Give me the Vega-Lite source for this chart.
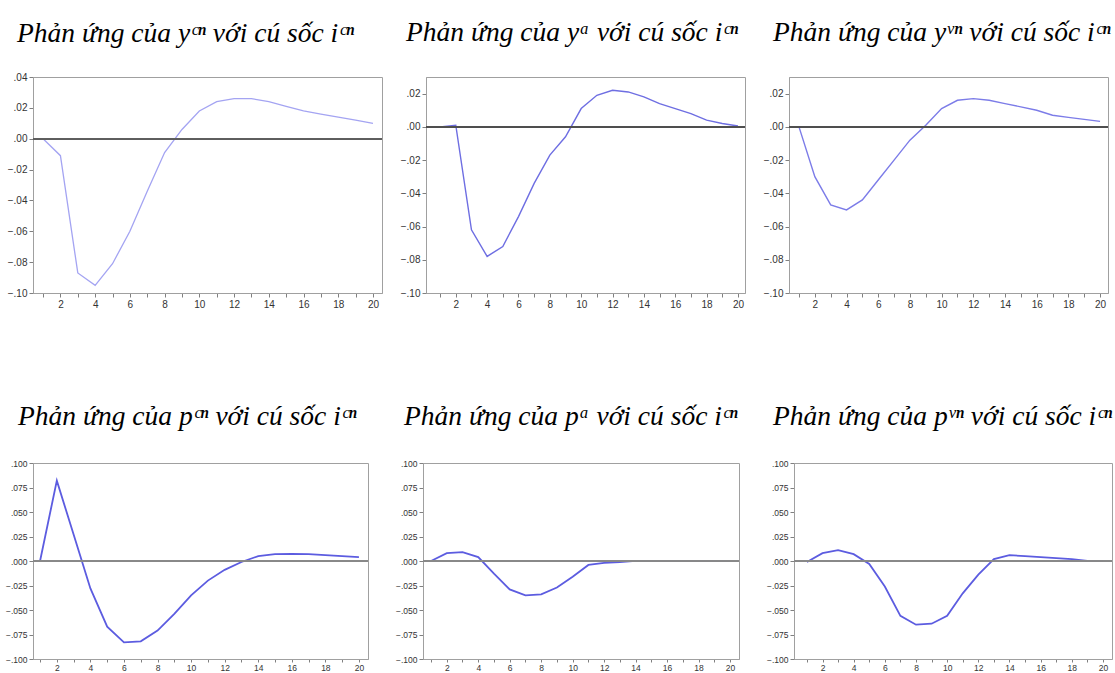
{
  "$schema": "https://vega.github.io/schema/vega-lite/v6.json",
  "background": "white",
  "padding": {"left": 4, "top": 18, "right": 0, "bottom": 0},
  "config": {
    "view": {"stroke": "#a0a0a0", "strokeWidth": 1},
    "axis": {"grid": false, "domainColor": "#a0a0a0", "tickColor": "#808080", "tickSize": 4, "labelColor": "#333333", "labelFont": "Liberation Sans", "labelPadding": 2, "labelOverlap": false, "title": null},
    "title": {"font": "Liberation Serif", "fontStyle": "italic", "fontWeight": "normal", "fontSize": 27.5, "color": "#000000", "anchor": "start", "frame": "group"}
  },
  "data": {"values": [
    {"p": "ycn", "t": 1, "v": 0}, {"p": "ycn", "t": 2, "v": -0.011}, {"p": "ycn", "t": 3, "v": -0.087}, {"p": "ycn", "t": 4, "v": -0.095}, {"p": "ycn", "t": 5, "v": -0.081}, {"p": "ycn", "t": 6, "v": -0.06}, {"p": "ycn", "t": 7, "v": -0.034}, {"p": "ycn", "t": 8, "v": -0.009}, {"p": "ycn", "t": 9, "v": 0.006}, {"p": "ycn", "t": 10, "v": 0.018}, {"p": "ycn", "t": 11, "v": 0.024}, {"p": "ycn", "t": 12, "v": 0.026}, {"p": "ycn", "t": 13, "v": 0.026}, {"p": "ycn", "t": 14, "v": 0.024}, {"p": "ycn", "t": 15, "v": 0.021}, {"p": "ycn", "t": 16, "v": 0.018}, {"p": "ycn", "t": 17, "v": 0.016}, {"p": "ycn", "t": 18, "v": 0.014}, {"p": "ycn", "t": 19, "v": 0.012}, {"p": "ycn", "t": 20, "v": 0.01},
    {"p": "ya", "t": 1, "v": 0}, {"p": "ya", "t": 2, "v": 0.001}, {"p": "ya", "t": 3, "v": -0.062}, {"p": "ya", "t": 4, "v": -0.078}, {"p": "ya", "t": 5, "v": -0.072}, {"p": "ya", "t": 6, "v": -0.054}, {"p": "ya", "t": 7, "v": -0.034}, {"p": "ya", "t": 8, "v": -0.017}, {"p": "ya", "t": 9, "v": -0.006}, {"p": "ya", "t": 10, "v": 0.011}, {"p": "ya", "t": 11, "v": 0.019}, {"p": "ya", "t": 12, "v": 0.022}, {"p": "ya", "t": 13, "v": 0.021}, {"p": "ya", "t": 14, "v": 0.018}, {"p": "ya", "t": 15, "v": 0.014}, {"p": "ya", "t": 16, "v": 0.011}, {"p": "ya", "t": 17, "v": 0.008}, {"p": "ya", "t": 18, "v": 0.004}, {"p": "ya", "t": 19, "v": 0.002}, {"p": "ya", "t": 20, "v": 0.0005},
    {"p": "yvn", "t": 1, "v": 0}, {"p": "yvn", "t": 2, "v": -0.03}, {"p": "yvn", "t": 3, "v": -0.047}, {"p": "yvn", "t": 4, "v": -0.05}, {"p": "yvn", "t": 5, "v": -0.044}, {"p": "yvn", "t": 6, "v": -0.032}, {"p": "yvn", "t": 7, "v": -0.02}, {"p": "yvn", "t": 8, "v": -0.008}, {"p": "yvn", "t": 9, "v": 0.001}, {"p": "yvn", "t": 10, "v": 0.011}, {"p": "yvn", "t": 11, "v": 0.016}, {"p": "yvn", "t": 12, "v": 0.017}, {"p": "yvn", "t": 13, "v": 0.016}, {"p": "yvn", "t": 14, "v": 0.014}, {"p": "yvn", "t": 15, "v": 0.012}, {"p": "yvn", "t": 16, "v": 0.01}, {"p": "yvn", "t": 17, "v": 0.007}, {"p": "yvn", "t": 18, "v": 0.0057}, {"p": "yvn", "t": 19, "v": 0.0045}, {"p": "yvn", "t": 20, "v": 0.0033},
    {"p": "pcn", "t": 1, "v": 0}, {"p": "pcn", "t": 2, "v": 0.082}, {"p": "pcn", "t": 3, "v": 0.027}, {"p": "pcn", "t": 4, "v": -0.028}, {"p": "pcn", "t": 5, "v": -0.067}, {"p": "pcn", "t": 6, "v": -0.083}, {"p": "pcn", "t": 7, "v": -0.082}, {"p": "pcn", "t": 8, "v": -0.071}, {"p": "pcn", "t": 9, "v": -0.054}, {"p": "pcn", "t": 10, "v": -0.035}, {"p": "pcn", "t": 11, "v": -0.02}, {"p": "pcn", "t": 12, "v": -0.009}, {"p": "pcn", "t": 13, "v": -0.001}, {"p": "pcn", "t": 14, "v": 0.005}, {"p": "pcn", "t": 15, "v": 0.007}, {"p": "pcn", "t": 16, "v": 0.0073}, {"p": "pcn", "t": 17, "v": 0.007}, {"p": "pcn", "t": 18, "v": 0.006}, {"p": "pcn", "t": 19, "v": 0.005}, {"p": "pcn", "t": 20, "v": 0.004},
    {"p": "pa", "t": 1, "v": 0}, {"p": "pa", "t": 2, "v": 0.008}, {"p": "pa", "t": 3, "v": 0.009}, {"p": "pa", "t": 4, "v": 0.004}, {"p": "pa", "t": 5, "v": -0.013}, {"p": "pa", "t": 6, "v": -0.029}, {"p": "pa", "t": 7, "v": -0.035}, {"p": "pa", "t": 8, "v": -0.034}, {"p": "pa", "t": 9, "v": -0.027}, {"p": "pa", "t": 10, "v": -0.016}, {"p": "pa", "t": 11, "v": -0.004}, {"p": "pa", "t": 12, "v": -0.002}, {"p": "pa", "t": 13, "v": -0.001}, {"p": "pa", "t": 14, "v": 0.0002}, {"p": "pa", "t": 15, "v": 0.0002}, {"p": "pa", "t": 16, "v": 0.0002}, {"p": "pa", "t": 17, "v": 0.0002}, {"p": "pa", "t": 18, "v": 0.0002}, {"p": "pa", "t": 19, "v": 0.0002}, {"p": "pa", "t": 20, "v": 0.0001},
    {"p": "pvn", "t": 1, "v": -0.001}, {"p": "pvn", "t": 2, "v": 0.008}, {"p": "pvn", "t": 3, "v": 0.011}, {"p": "pvn", "t": 4, "v": 0.007}, {"p": "pvn", "t": 5, "v": -0.003}, {"p": "pvn", "t": 6, "v": -0.026}, {"p": "pvn", "t": 7, "v": -0.056}, {"p": "pvn", "t": 8, "v": -0.065}, {"p": "pvn", "t": 9, "v": -0.064}, {"p": "pvn", "t": 10, "v": -0.056}, {"p": "pvn", "t": 11, "v": -0.033}, {"p": "pvn", "t": 12, "v": -0.014}, {"p": "pvn", "t": 13, "v": 0.002}, {"p": "pvn", "t": 14, "v": 0.006}, {"p": "pvn", "t": 15, "v": 0.005}, {"p": "pvn", "t": 16, "v": 0.004}, {"p": "pvn", "t": 17, "v": 0.003}, {"p": "pvn", "t": 18, "v": 0.002}, {"p": "pvn", "t": 19, "v": 0.0}, {"p": "pvn", "t": 20, "v": 0.0}
  ]},
  "spacing": 386,
  "bounds": "flush",
  "vconcat": [
    {
      "spacing": 44,
      "bounds": "flush",
      "hconcat": [
        {
          "width": 349, "height": 216,
          "title": {"text": "Phản ứng của yᶜⁿ với cú sốc iᶜⁿ", "dx": -16, "offset": 25},
          "transform": [{"filter": "datum.p == 'ycn'"}],
          "layer": [
            {"mark": {"type": "line", "color": "#a4a4f2", "strokeWidth": 1.3},
             "encoding": {
               "x": {"field": "t", "type": "quantitative", "scale": {"domain": [0.42, 20.52], "nice": false, "zero": false}, "axis": {"values": [1,2,3,4,5,6,7,8,9,10,11,12,13,14,15,16,17,18,19,20], "labelExpr": "datum.value % 2 == 0 ? datum.label : ''", "labelFontSize": 10}},
               "y": {"field": "v", "type": "quantitative", "scale": {"domain": [-0.1, 0.04], "nice": false, "zero": false}, "axis": {"values": [-0.1,-0.08,-0.06,-0.04,-0.02,0,0.02,0.04], "labelExpr": "replace(format(datum.value, '.2f'), '0.', '.')", "labelFontSize": 10}}
             }},
            {"mark": {"type": "rule", "color": "#606060", "strokeWidth": 1}, "encoding": {"y": {"datum": 0, "type": "quantitative", "axis": {"values": [-0.1,-0.08,-0.06,-0.04,-0.02,0,0.02,0.04], "labelExpr": "replace(format(datum.value, '.2f'), '0.', '.')", "labelFontSize": 10}}}}
          ]
        },
        {
          "width": 319, "height": 216,
          "title": {"text": "Phản ứng của yᵃ với cú sốc iᶜⁿ", "dx": -20, "offset": 31},
          "transform": [{"filter": "datum.p == 'ya'"}],
          "layer": [
            {"mark": {"type": "line", "color": "#6e6ee2", "strokeWidth": 1.4},
             "encoding": {
               "x": {"field": "t", "type": "quantitative", "scale": {"domain": [0.1, 20.45], "nice": false, "zero": false}, "axis": {"values": [1,2,3,4,5,6,7,8,9,10,11,12,13,14,15,16,17,18,19,20], "labelExpr": "datum.value % 2 == 0 ? datum.label : ''", "labelFontSize": 10}},
               "y": {"field": "v", "type": "quantitative", "scale": {"domain": [-0.1, 0.03], "nice": false, "zero": false}, "axis": {"values": [-0.1,-0.08,-0.06,-0.04,-0.02,0,0.02], "labelExpr": "replace(format(datum.value, '.2f'), '0.', '.')", "labelFontSize": 10}}
             }},
            {"mark": {"type": "rule", "color": "#505050", "strokeWidth": 1}, "encoding": {"y": {"datum": 0, "type": "quantitative", "axis": {"values": [-0.1,-0.08,-0.06,-0.04,-0.02,0,0.02], "labelExpr": "replace(format(datum.value, '.2f'), '0.', '.')", "labelFontSize": 10}}}}
          ]
        },
        {
          "width": 319, "height": 216,
          "title": {"text": "Phản ứng của yᵛⁿ với cú sốc iᶜⁿ", "dx": -16, "offset": 31},
          "transform": [{"filter": "datum.p == 'yvn'"}],
          "layer": [
            {"mark": {"type": "line", "color": "#7c7ce8", "strokeWidth": 1.4},
             "encoding": {
               "x": {"field": "t", "type": "quantitative", "scale": {"domain": [0.37, 20.5], "nice": false, "zero": false}, "axis": {"values": [1,2,3,4,5,6,7,8,9,10,11,12,13,14,15,16,17,18,19,20], "labelExpr": "datum.value % 2 == 0 ? datum.label : ''", "labelFontSize": 10}},
               "y": {"field": "v", "type": "quantitative", "scale": {"domain": [-0.1, 0.03], "nice": false, "zero": false}, "axis": {"values": [-0.1,-0.08,-0.06,-0.04,-0.02,0,0.02], "labelExpr": "replace(format(datum.value, '.2f'), '0.', '.')", "labelFontSize": 10}}
             }},
            {"mark": {"type": "rule", "color": "#505050", "strokeWidth": 1}, "encoding": {"y": {"datum": 0, "type": "quantitative", "axis": {"values": [-0.1,-0.08,-0.06,-0.04,-0.02,0,0.02], "labelExpr": "replace(format(datum.value, '.2f'), '0.', '.')", "labelFontSize": 10}}}}
          ]
        }
      ]
    },
    {
      "spacing": 55,
      "bounds": "flush",
      "hconcat": [
        {
          "width": 335, "height": 196,
          "title": {"text": "Phản ứng của pᶜⁿ với cú sốc iᶜⁿ", "dx": -15, "offset": 29},
          "transform": [{"filter": "datum.p == 'pcn'"}],
          "layer": [
            {"mark": {"type": "line", "color": "#5c5ce0", "strokeWidth": 1.8},
             "encoding": {
               "x": {"field": "t", "type": "quantitative", "scale": {"domain": [0.58, 20.54], "nice": false, "zero": false}, "axis": {"values": [1,2,3,4,5,6,7,8,9,10,11,12,13,14,15,16,17,18,19,20], "labelExpr": "datum.value % 2 == 0 ? datum.label : ''", "labelFontSize": 8.5, "tickSize": 3, "labelPadding": 1}},
               "y": {"field": "v", "type": "quantitative", "scale": {"domain": [-0.1, 0.1], "nice": false, "zero": false}, "axis": {"values": [-0.1,-0.075,-0.05,-0.025,0,0.025,0.05,0.075,0.1], "labelExpr": "replace(format(datum.value, '.3f'), '0.', '.')", "labelFontSize": 8.5}}
             }},
            {"mark": {"type": "rule", "color": "#888888", "strokeWidth": 1}, "encoding": {"y": {"datum": 0, "type": "quantitative", "axis": {"values": [-0.1,-0.075,-0.05,-0.025,0,0.025,0.05,0.075,0.1], "labelExpr": "replace(format(datum.value, '.3f'), '0.', '.')", "labelFontSize": 8.5}}}}
          ]
        },
        {
          "width": 316, "height": 196,
          "title": {"text": "Phản ứng của pᵃ với cú sốc iᶜⁿ", "dx": -19, "offset": 29},
          "transform": [{"filter": "datum.p == 'pa'"}],
          "layer": [
            {"mark": {"type": "line", "color": "#5c5ce0", "strokeWidth": 1.8},
             "encoding": {
               "x": {"field": "t", "type": "quantitative", "scale": {"domain": [0.49, 20.57], "nice": false, "zero": false}, "axis": {"values": [1,2,3,4,5,6,7,8,9,10,11,12,13,14,15,16,17,18,19,20], "labelExpr": "datum.value % 2 == 0 ? datum.label : ''", "labelFontSize": 8.5, "tickSize": 3, "labelPadding": 1}},
               "y": {"field": "v", "type": "quantitative", "scale": {"domain": [-0.1, 0.1], "nice": false, "zero": false}, "axis": {"values": [-0.1,-0.075,-0.05,-0.025,0,0.025,0.05,0.075,0.1], "labelExpr": "replace(format(datum.value, '.3f'), '0.', '.')", "labelFontSize": 8.5}}
             }},
            {"mark": {"type": "rule", "color": "#888888", "strokeWidth": 1}, "encoding": {"y": {"datum": 0, "type": "quantitative", "axis": {"values": [-0.1,-0.075,-0.05,-0.025,0,0.025,0.05,0.075,0.1], "labelExpr": "replace(format(datum.value, '.3f'), '0.', '.')", "labelFontSize": 8.5}}}}
          ]
        },
        {
          "width": 318, "height": 196,
          "title": {"text": "Phản ứng của pᵛⁿ với cú sốc iᶜⁿ", "dx": -21, "offset": 29},
          "transform": [{"filter": "datum.p == 'pvn'"}],
          "layer": [
            {"mark": {"type": "line", "color": "#5c5ce0", "strokeWidth": 1.8},
             "encoding": {
               "x": {"field": "t", "type": "quantitative", "scale": {"domain": [0.17, 20.58], "nice": false, "zero": false}, "axis": {"values": [1,2,3,4,5,6,7,8,9,10,11,12,13,14,15,16,17,18,19,20], "labelExpr": "datum.value % 2 == 0 ? datum.label : ''", "labelFontSize": 8.5, "tickSize": 3, "labelPadding": 1}},
               "y": {"field": "v", "type": "quantitative", "scale": {"domain": [-0.1, 0.1], "nice": false, "zero": false}, "axis": {"values": [-0.1,-0.075,-0.05,-0.025,0,0.025,0.05,0.075,0.1], "labelExpr": "replace(format(datum.value, '.3f'), '0.', '.')", "labelFontSize": 8.5}}
             }},
            {"mark": {"type": "rule", "color": "#888888", "strokeWidth": 1}, "encoding": {"y": {"datum": 0, "type": "quantitative", "axis": {"values": [-0.1,-0.075,-0.05,-0.025,0,0.025,0.05,0.075,0.1], "labelExpr": "replace(format(datum.value, '.3f'), '0.', '.')", "labelFontSize": 8.5}}}}
          ]
        }
      ]
    }
  ]
}
